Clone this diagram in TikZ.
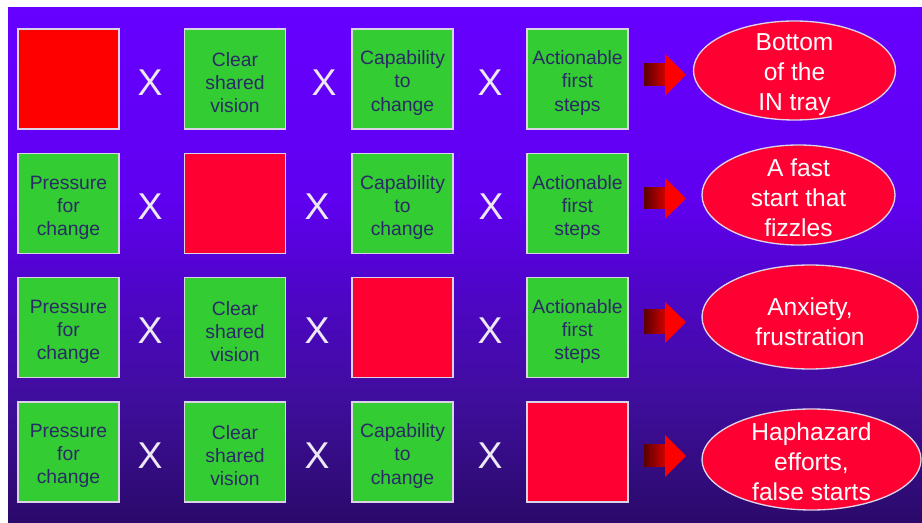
\documentclass[tikz,border=0pt]{standalone}
\usepackage{fontspec}
\setmainfont{Liberation Sans}
\usepackage{xcolor}
\usepackage{tikz}
\usetikzlibrary{shapes.geometric}
\definecolor{BgTop}{HTML}{6600FF}
\definecolor{BgHigh}{HTML}{5F00F0}
\definecolor{BgMid}{HTML}{4F05C8}
\definecolor{BgLow}{HTML}{3F0E9C}
\definecolor{BgBottom}{HTML}{2A0A6A}
\definecolor{Leaf}{HTML}{33CC33}
\definecolor{Crimson}{HTML}{FF0033}
\definecolor{Rim}{HTML}{DCD4E6}
\definecolor{Ink}{HTML}{2A2A66}
\definecolor{Chalk}{HTML}{ECE8F4}
\definecolor{ArrowDark}{HTML}{5A0000}
\definecolor{ArrowMid}{HTML}{D00000}
\pgfdeclareverticalshading{slidefade}{100bp}{color(0bp)=(BgBottom); color(25bp)=(BgBottom); color(36.9bp)=(BgLow); color(47.6bp)=(BgMid); color(56.4bp)=(BgHigh); color(75bp)=(BgTop); color(100bp)=(BgTop)}

\begin{document}
\begin{tikzpicture}[x=0.75pt,y=-0.75pt,
  square/.style={draw=Rim,line width=1pt,minimum width=75.75pt,minimum height=75pt,inner sep=0pt},
  factor/.style={square,fill=Leaf,label={[tag]center:#1}},
  missing/.style={square,fill=Crimson},
  tag/.style={text=Ink,inner sep=0pt,yshift=-3pt,align=center,font=\fontsize{14.5}{17.3}\selectfont},
  times/.style={text=Chalk,inner sep=0pt,font=\fontsize{28}{28}\selectfont},
  outcome/.style={ellipse,draw=Rim,line width=1pt,fill=Crimson,inner sep=0pt},
  outtext/.style={text=white,align=center,font=\fontsize{18.4}{22.5}\selectfont}]
  % slide background
  \fill[white] (0,0) rectangle (922,523);
  \shade[shading=slidefade] (8,8) rectangle (922,523);

  % row 1: no pressure
  \node[missing,fill=red] (p1) at (68.5,79) {};
  \node[times] (x11) at (150,83) {X};
  \node[factor={Clear\\shared\\vision}] (v1) at (235,79) {};
  \node[times] (x12) at (324,83) {X};
  \node[factor={Capability\\to\\change}] (c1) at (402.5,79) {};
  \node[times] (x13) at (490,83) {X};
  \node[factor={Actionable\\first\\steps}] (s1) at (577.5,79) {};
  \shade[left color=ArrowDark,right color=ArrowMid] (644,64) rectangle (665,86);
  \fill[red] (665,54) -- (686,75) -- (665,96) -- cycle;
  \node[outcome,minimum width=151.5pt,minimum height=74.25pt] (o1) at (794.5,70.5) {};
  \node[outtext,yshift=-3pt] at (o1) {Bottom\\of the\\IN tray};

  % row 2: no vision
  \node[factor={Pressure\\for\\change}] (p2) at (68.5,203.5) {};
  \node[times] (x21) at (150,207) {X};
  \node[missing] (v2) at (235,203.5) {};
  \node[times] (x22) at (317,207) {X};
  \node[factor={Capability\\to\\change}] (c2) at (402.5,203.5) {};
  \node[times] (x23) at (491,207) {X};
  \node[factor={Actionable\\first\\steps}] (s2) at (577.5,203.5) {};
  \shade[left color=ArrowDark,right color=ArrowMid] (644,188) rectangle (665,209);
  \fill[red] (665,178) -- (686,198.5) -- (665,219) -- cycle;
  \node[outcome,minimum width=144.75pt,minimum height=75pt] (o2) at (798.5,195) {};
  \node[outtext,yshift=-2pt] at (o2) {A fast\\start that\\fizzles};

  % row 3: no capability
  \node[factor={Pressure\\for\\change}] (p3) at (68.5,327.5) {};
  \node[times] (x31) at (150,331) {X};
  \node[factor={Clear\\shared\\vision}] (v3) at (235,327.5) {};
  \node[times] (x32) at (317,331) {X};
  \node[missing] (c3) at (402.5,327.5) {};
  \node[times] (x33) at (490,331) {X};
  \node[factor={Actionable\\first\\steps}] (s3) at (577.5,327.5) {};
  \shade[left color=ArrowDark,right color=ArrowMid] (644,310) rectangle (665,334);
  \fill[red] (665,302) -- (686,322) -- (665,343) -- cycle;
  \node[outcome,minimum width=162pt,minimum height=78pt] (o3) at (810,317) {};
  \node[outtext,yshift=-3.5pt] at (o3) {Anxiety,\\frustration};

  % row 4: no first steps
  \node[factor={Pressure\\for\\change}] (p4) at (68.5,452) {};
  \node[times] (x41) at (150,456) {X};
  \node[factor={Clear\\shared\\vision}] (v4) at (235,452) {};
  \node[times] (x42) at (317,456) {X};
  \node[factor={Capability\\to\\change}] (c4) at (402.5,452) {};
  \node[times] (x43) at (490,456) {X};
  \node[missing] (s4) at (577.5,452) {};
  \shade[left color=ArrowDark,right color=ArrowMid] (644,445) rectangle (665,467);
  \fill[red] (665,435) -- (686,456) -- (665,477) -- cycle;
  \node[outcome,minimum width=164.25pt,minimum height=75.75pt] (o4) at (811.5,459.5) {};
  \node[outtext,yshift=-1.5pt] at (o4) {Haphazard\\efforts,\\false starts};
\end{tikzpicture}
\end{document}
